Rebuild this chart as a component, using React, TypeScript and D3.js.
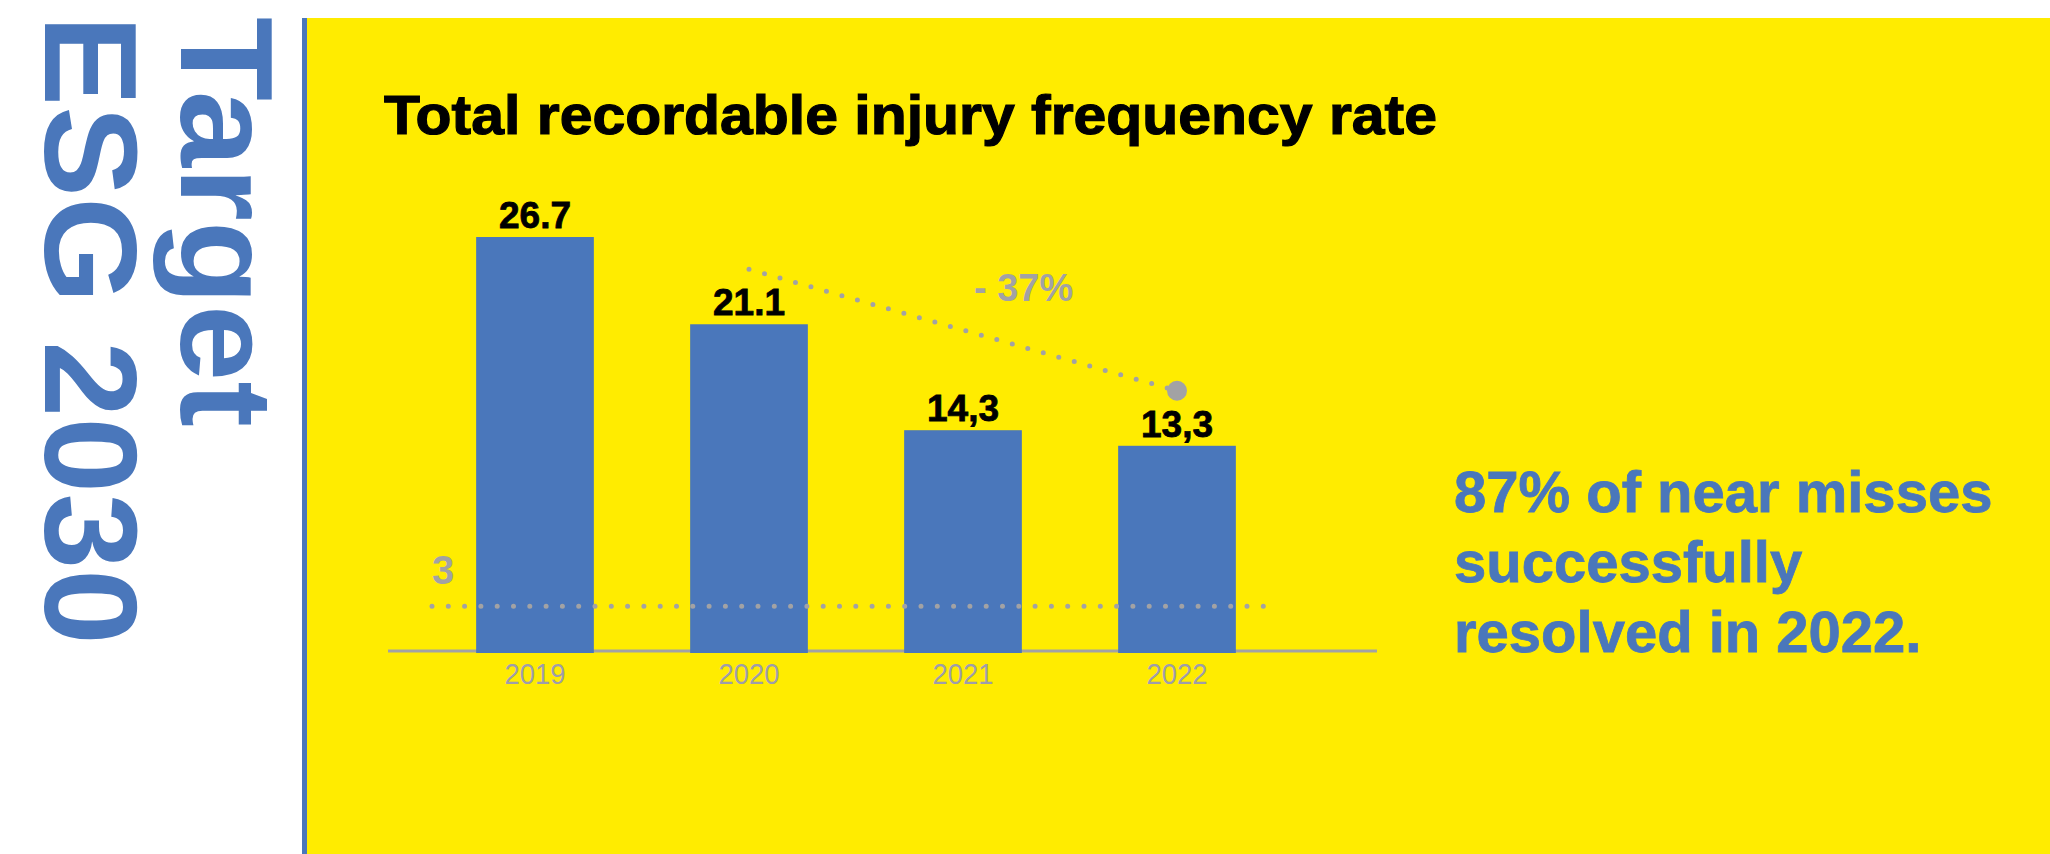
import React from 'react';
import * as d3 from 'd3';

// Total recordable injury frequency rate, by year
const years: string[] = ['2019', '2020', '2021', '2022'];
const rates: number[] = [26.7, 21.1, 14.3, 13.3];
const rateLabels: string[] = ['26.7', '21.1', '14,3', '13,3'];

// 2030 target level and the change highlighted between two years
const targetValue = 3;
const targetLabel = '3';
const trendFrom = '2020';
const trendTo = '2022';
const changeLabel = '- 37%';

const titleText = 'Total recordable injury frequency rate';
const sideLines: string[] = ['Target', 'ESG 2030'];
const noteLines: string[] = ['87% of near misses', 'successfully', 'resolved in 2022.'];

const W = 2050;
const H = 854;
const BLUE = '#4a77bb';
const YELLOW = '#ffec00';
const GREY = '#a2a2a4';
const FONT = "'Liberation Sans', Arial, Helvetica, sans-serif";

export default function App() {
  const x = d3
    .scaleBand<string>()
    .domain(years)
    .range([428, 1284])
    .paddingInner(0.45)
    .paddingOuter(0.225);

  const y = d3.scaleLinear().domain([0, 30]).range([653, 185.6]);

  const cx = (yr: string) => (x(yr) ?? 0) + x.bandwidth() / 2;
  const valueOf = (yr: string) => rates[years.indexOf(yr)];

  // trend path sits a fixed gap above the tops of the two bars it joins
  const gap = 55;
  const trendPts: [number, number][] = [
    [cx(trendFrom), y(valueOf(trendFrom)) - gap],
    [cx(trendTo), y(valueOf(trendTo)) - gap],
  ];
  const trendLine = d3.line()(trendPts) ?? '';

  const targetY = y(targetValue);
  const targetPath = d3.line()([
    [432, targetY],
    [1265, targetY],
  ]) ?? '';

  return (
    <svg
      width={W}
      height={H}
      viewBox={`0 0 ${W} ${H}`}
      style={{ position: 'absolute', left: 0, top: 0, background: '#ffffff' }}
      fontFamily={FONT}
    >
      {/* side heading, rotated */}
      <text
        transform="translate(181,17) rotate(90)"
        fontSize={131}
        fontWeight="bold"
        fill={BLUE}
        textLength={410}
        lengthAdjust="spacingAndGlyphs"
      >
        {sideLines[0]}
      </text>
      <text
        transform="translate(45,15) rotate(90)"
        fontSize={131}
        fontWeight="bold"
        fill={BLUE}
        textLength={630}
        lengthAdjust="spacingAndGlyphs"
      >
        {sideLines[1]}
      </text>

      {/* panel */}
      <rect x={302} y={18} width={5} height={H - 18} fill={BLUE} />
      <rect x={307} y={18} width={W - 307} height={H - 18} fill={YELLOW} />

      <text
        x={384}
        y={134}
        fontSize={56}
        fontWeight="bold"
        fill="#000"
        stroke="#000"
        strokeWidth={1.2}
        textLength={1053}
        lengthAdjust="spacingAndGlyphs"
      >
        {titleText}
      </text>

      {/* baseline */}
      <line x1={388} x2={1377} y1={651} y2={651} stroke={GREY} strokeWidth={3} />

      {/* bars */}
      {years.map((yr, i) => (
        <rect
          key={yr}
          x={x(yr)}
          y={y(rates[i])}
          width={x.bandwidth()}
          height={y(0) - y(rates[i])}
          fill={BLUE}
        />
      ))}

      {/* target level */}
      <path
        d={targetPath}
        stroke={GREY}
        strokeWidth={5}
        strokeLinecap="round"
        strokeDasharray="0 16.3"
        fill="none"
      />
      <text x={432} y={584} fontSize={40} fontWeight="bold" fill={GREY}>
        {targetLabel}
      </text>

      {/* value labels */}
      {years.map((yr, i) => (
        <text
          key={yr}
          x={cx(yr)}
          y={y(rates[i]) - 9}
          textAnchor="middle"
          fontSize={37}
          fontWeight="bold"
          fill="#000"
          stroke="#000"
          strokeWidth={0.8}
        >
          {rateLabels[i]}
        </text>
      ))}

      {/* year labels */}
      {years.map((yr) => (
        <text
          key={yr}
          x={cx(yr)}
          y={684}
          textAnchor="middle"
          fontSize={30}
          fill="#9e9dab"
          textLength={61}
          lengthAdjust="spacingAndGlyphs"
        >
          {yr}
        </text>
      ))}

      {/* change between the two years */}
      <path
        d={trendLine}
        stroke={GREY}
        strokeWidth={5}
        strokeLinecap="round"
        strokeDasharray="0 16.1"
        fill="none"
      />
      <circle cx={trendPts[1][0]} cy={trendPts[1][1]} r={10} fill={GREY} />
      <text x={974} y={301} fontSize={38} fontWeight="bold" fill={GREY}>
        {changeLabel}
      </text>

      {/* note */}
      {noteLines.map((ln, i) => (
        <text
          key={ln}
          x={1454}
          y={512 + i * 70}
          fontSize={58}
          fontWeight="bold"
          fill={BLUE}
          stroke={BLUE}
          strokeWidth={0.8}
        >
          {ln}
        </text>
      ))}
    </svg>
  );
}
